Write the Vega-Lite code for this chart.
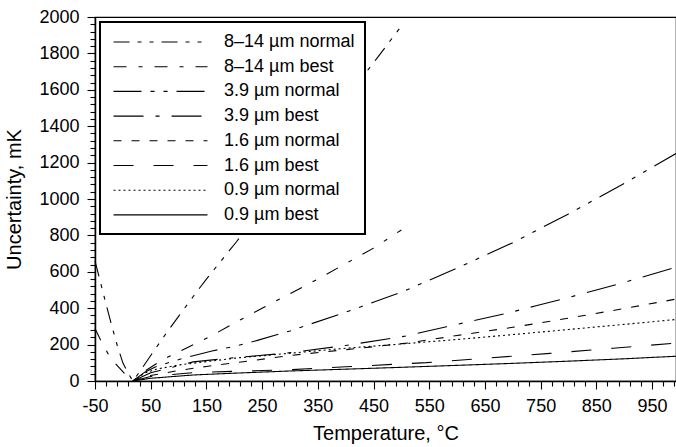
{
  "$schema": "https://vega.github.io/schema/vega-lite/v6.json",
  "autosize": {"type": "none"},
  "padding": {"left": 95, "top": 17, "right": 0, "bottom": 66},
  "width": 581,
  "height": 364,
  "background": "white",
  "config": {
    "font": "Liberation Sans",
    "view": {"stroke": "black", "strokeWidth": 1.2},
    "axis": {
      "labelFontSize": 18, "titleFontSize": 20, "titleFontWeight": "normal",
      "labelColor": "black", "titleColor": "black", "domainColor": "black",
      "tickColor": "black", "grid": false, "labelFont": "Liberation Sans", "titleFont": "Liberation Sans",
      "labelOverlap": false, "labelFlush": false
    },
    "legend": {"strokeWidth": 2}
  },
  "data": {"values": [
    {"series": "8–14 µm normal", "T": -50, "U": 660},
    {"series": "8–14 µm normal", "T": -40, "U": 540},
    {"series": "8–14 µm normal", "T": -30, "U": 420},
    {"series": "8–14 µm normal", "T": -20, "U": 305},
    {"series": "8–14 µm normal", "T": -10, "U": 195},
    {"series": "8–14 µm normal", "T": 0, "U": 100},
    {"series": "8–14 µm normal", "T": 10, "U": 40},
    {"series": "8–14 µm normal", "T": 18, "U": 0},
    {"series": "8–14 µm normal", "T": 30, "U": 50},
    {"series": "8–14 µm normal", "T": 50, "U": 140},
    {"series": "8–14 µm normal", "T": 75, "U": 250},
    {"series": "8–14 µm normal", "T": 100, "U": 355},
    {"series": "8–14 µm normal", "T": 126, "U": 463},
    {"series": "8–14 µm normal", "T": 150, "U": 560},
    {"series": "8–14 µm normal", "T": 204, "U": 765},
    {"series": "8–14 µm normal", "T": 250, "U": 950},
    {"series": "8–14 µm normal", "T": 300, "U": 1150},
    {"series": "8–14 µm normal", "T": 350, "U": 1350},
    {"series": "8–14 µm normal", "T": 400, "U": 1550},
    {"series": "8–14 µm normal", "T": 456, "U": 1773},
    {"series": "8–14 µm normal", "T": 500, "U": 1950},

    {"series": "8–14 µm best", "T": -50, "U": 288},
    {"series": "8–14 µm best", "T": -40, "U": 225},
    {"series": "8–14 µm best", "T": -27, "U": 152},
    {"series": "8–14 µm best", "T": -15, "U": 101},
    {"series": "8–14 µm best", "T": 0, "U": 52},
    {"series": "8–14 µm best", "T": 9, "U": 20},
    {"series": "8–14 µm best", "T": 18, "U": 0},
    {"series": "8–14 µm best", "T": 40, "U": 55},
    {"series": "8–14 µm best", "T": 60, "U": 95},
    {"series": "8–14 µm best", "T": 80, "U": 130},
    {"series": "8–14 µm best", "T": 120, "U": 190},
    {"series": "8–14 µm best", "T": 160, "U": 250},
    {"series": "8–14 µm best", "T": 200, "U": 318},
    {"series": "8–14 µm best", "T": 250, "U": 400},
    {"series": "8–14 µm best", "T": 300, "U": 480},
    {"series": "8–14 µm best", "T": 350, "U": 560},
    {"series": "8–14 µm best", "T": 400, "U": 645},
    {"series": "8–14 µm best", "T": 450, "U": 730},
    {"series": "8–14 µm best", "T": 500, "U": 830},

    {"series": "3.9 µm normal", "T": 18, "U": 0},
    {"series": "3.9 µm normal", "T": 40, "U": 50},
    {"series": "3.9 µm normal", "T": 60, "U": 80},
    {"series": "3.9 µm normal", "T": 105, "U": 122},
    {"series": "3.9 µm normal", "T": 160, "U": 165},
    {"series": "3.9 µm normal", "T": 200, "U": 190},
    {"series": "3.9 µm normal", "T": 240, "U": 222},
    {"series": "3.9 µm normal", "T": 300, "U": 275},
    {"series": "3.9 µm normal", "T": 400, "U": 378},
    {"series": "3.9 µm normal", "T": 500, "U": 488},
    {"series": "3.9 µm normal", "T": 600, "U": 620},
    {"series": "3.9 µm normal", "T": 700, "U": 760},
    {"series": "3.9 µm normal", "T": 800, "U": 918},
    {"series": "3.9 µm normal", "T": 900, "U": 1085},
    {"series": "3.9 µm normal", "T": 993, "U": 1250},

    {"series": "3.9 µm best", "T": 18, "U": 0},
    {"series": "3.9 µm best", "T": 50, "U": 45},
    {"series": "3.9 µm best", "T": 126, "U": 105},
    {"series": "3.9 µm best", "T": 200, "U": 128},
    {"series": "3.9 µm best", "T": 291, "U": 152},
    {"series": "3.9 µm best", "T": 400, "U": 195},
    {"series": "3.9 µm best", "T": 508, "U": 247},
    {"series": "3.9 µm best", "T": 581, "U": 298},
    {"series": "3.9 µm best", "T": 635, "U": 335},
    {"series": "3.9 µm best", "T": 689, "U": 372},
    {"series": "3.9 µm best", "T": 740, "U": 412},
    {"series": "3.9 µm best", "T": 794, "U": 454},
    {"series": "3.9 µm best", "T": 845, "U": 496},
    {"series": "3.9 µm best", "T": 898, "U": 540},
    {"series": "3.9 µm best", "T": 993, "U": 625},

    {"series": "1.6 µm normal", "T": 18, "U": 0},
    {"series": "1.6 µm normal", "T": 50, "U": 30},
    {"series": "1.6 µm normal", "T": 100, "U": 58},
    {"series": "1.6 µm normal", "T": 150, "U": 80},
    {"series": "1.6 µm normal", "T": 234, "U": 113},
    {"series": "1.6 µm normal", "T": 300, "U": 140},
    {"series": "1.6 µm normal", "T": 400, "U": 172},
    {"series": "1.6 µm normal", "T": 515, "U": 210},
    {"series": "1.6 µm normal", "T": 600, "U": 250},
    {"series": "1.6 µm normal", "T": 700, "U": 295},
    {"series": "1.6 µm normal", "T": 800, "U": 345},
    {"series": "1.6 µm normal", "T": 900, "U": 398},
    {"series": "1.6 µm normal", "T": 993, "U": 450},

    {"series": "1.6 µm best", "T": 18, "U": 0},
    {"series": "1.6 µm best", "T": 50, "U": 25},
    {"series": "1.6 µm best", "T": 126, "U": 46},
    {"series": "1.6 µm best", "T": 200, "U": 53},
    {"series": "1.6 µm best", "T": 300, "U": 62},
    {"series": "1.6 µm best", "T": 400, "U": 78},
    {"series": "1.6 µm best", "T": 545, "U": 101},
    {"series": "1.6 µm best", "T": 650, "U": 125},
    {"series": "1.6 µm best", "T": 767, "U": 152},
    {"series": "1.6 µm best", "T": 880, "U": 180},
    {"series": "1.6 µm best", "T": 993, "U": 208},

    {"series": "0.9 µm normal", "T": 18, "U": 0},
    {"series": "0.9 µm normal", "T": 40, "U": 45},
    {"series": "0.9 µm normal", "T": 60, "U": 65},
    {"series": "0.9 µm normal", "T": 100, "U": 88},
    {"series": "0.9 µm normal", "T": 200, "U": 125},
    {"series": "0.9 µm normal", "T": 320, "U": 158},
    {"series": "0.9 µm normal", "T": 400, "U": 180},
    {"series": "0.9 µm normal", "T": 498, "U": 203},
    {"series": "0.9 µm normal", "T": 600, "U": 228},
    {"series": "0.9 µm normal", "T": 700, "U": 255},
    {"series": "0.9 µm normal", "T": 800, "U": 283},
    {"series": "0.9 µm normal", "T": 900, "U": 311},
    {"series": "0.9 µm normal", "T": 993, "U": 338},

    {"series": "0.9 µm best", "T": 18, "U": 0},
    {"series": "0.9 µm best", "T": 50, "U": 15},
    {"series": "0.9 µm best", "T": 126, "U": 33},
    {"series": "0.9 µm best", "T": 200, "U": 43},
    {"series": "0.9 µm best", "T": 300, "U": 55},
    {"series": "0.9 µm best", "T": 400, "U": 65},
    {"series": "0.9 µm best", "T": 498, "U": 75},
    {"series": "0.9 µm best", "T": 600, "U": 86},
    {"series": "0.9 µm best", "T": 700, "U": 97},
    {"series": "0.9 µm best", "T": 800, "U": 109},
    {"series": "0.9 µm best", "T": 900, "U": 122},
    {"series": "0.9 µm best", "T": 993, "U": 136}
  ]},
  "mark": {"type": "line", "color": "black", "strokeWidth": 1.1},
  "encoding": {
    "x": {"field": "T", "type": "quantitative", "scale": {"domain": [-50, 993], "nice": false, "zero": false},
      "axis": {"orient": "bottom",
        "values": [-50,-30,-10,10,30,50,70,90,110,130,150,170,190,210,230,250,270,290,310,330,350,370,390,410,430,450,470,490,510,530,550,570,590,610,630,650,670,690,710,730,750,770,790,810,830,850,870,890,910,930,950,970,990],
        "labelExpr": "(datum.value + 50) % 100 === 0 ? '' + datum.value : ''",
        "tickSize": {"condition": {"test": "(datum.value + 50) % 100 === 0", "value": 8}, "value": 5},
        "tickWidth": 1.1, "domainWidth": 1.5,
        "labelPadding": 8, "title": "Temperature, °C", "titlePadding": 8}},
    "y": {"field": "U", "type": "quantitative", "scale": {"domain": [0, 2000], "nice": false},
      "axis": {"orient": "left",
        "values": [0,40,80,120,160,200,240,280,320,360,400,440,480,520,560,600,640,680,720,760,800,840,880,920,960,1000,1040,1080,1120,1160,1200,1240,1280,1320,1360,1400,1440,1480,1520,1560,1600,1640,1680,1720,1760,1800,1840,1880,1920,1960,2000],
        "labelExpr": "datum.value % 200 === 0 ? '' + datum.value : ''",
        "tickSize": {"condition": {"test": "datum.value % 200 === 0", "value": 8}, "value": 5},
        "tickWidth": 1.1, "domainWidth": 1.5,
        "labelPadding": 8, "title": "Uncertainty, mK", "titleX": -81, "titleBaseline": "middle"}},
    "strokeDash": {"field": "series", "type": "nominal",
      "scale": {
        "domain": ["8–14 µm normal", "8–14 µm best", "3.9 µm normal", "3.9 µm best", "1.6 µm normal", "1.6 µm best", "0.9 µm normal", "0.9 µm best"],
        "range": [[16,8,4,8,4,8], [13,12,4,12], [28,9,4,9,4,9], [30,12,4,12], [8,10], [20,20], [2,3], [1,0]]
      },
      "legend": {
        "title": null, "orient": "none", "legendX": 5, "legendY": 5,
        "strokeColor": "black", "fillColor": "white", "padding": 10,
        "symbolType": "M-0.72,0H9.72", "symbolSize": 324, "symbolStrokeWidth": 1.1, "symbolStrokeColor": "black", "symbolFillColor": "transparent",
        "labelFontSize": 18, "labelFont": "Liberation Sans", "labelColor": "black", "labelOffset": 94, "rowPadding": 5.7, "labelLimit": 300
      }
    }
  }
}
